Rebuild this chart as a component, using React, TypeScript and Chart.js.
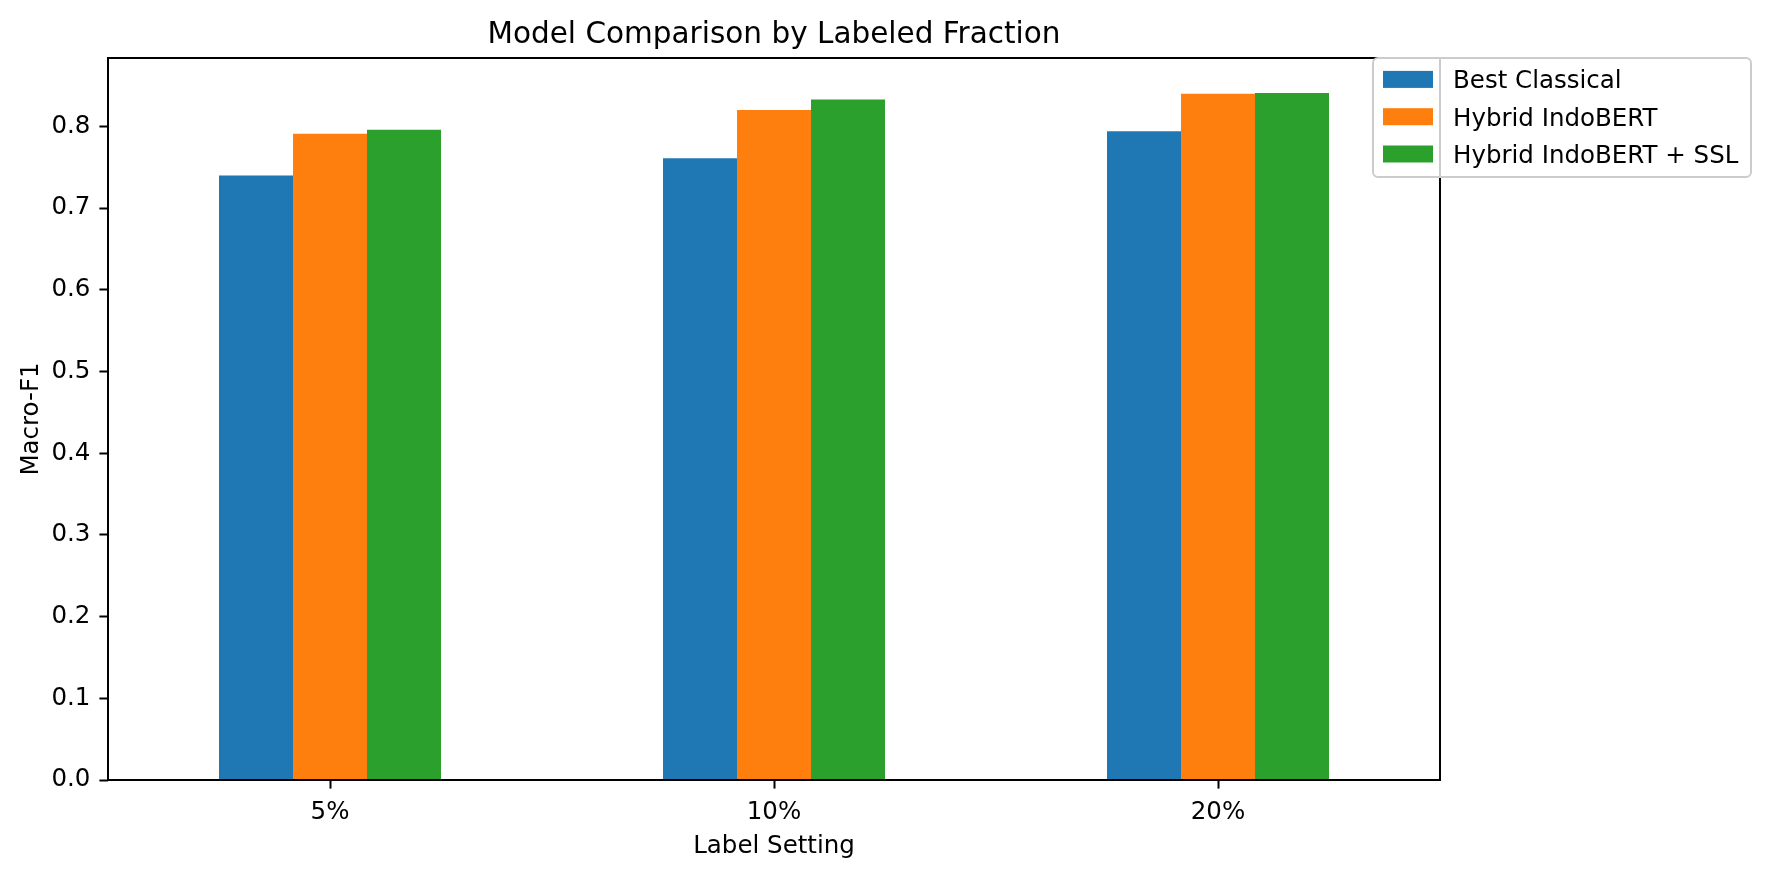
import React, { useEffect, useRef } from 'react';
import { Chart, registerables } from 'chart.js';

Chart.register(...registerables);

const categories = ['5%', '10%', '20%'];
const seriesLabels = ['Best Classical', 'Hybrid IndoBERT', 'Hybrid IndoBERT + SSL'];
const bestClassical = [0.74, 0.761, 0.794];
const hybridIndoBert = [0.791, 0.82, 0.84];
const hybridIndoBertSsl = [0.796, 0.833, 0.841];
const seriesColors = ['#1f77b4', '#ff7f0e', '#2ca02c'];
const yTicks = [0, 0.1, 0.2, 0.3, 0.4, 0.5, 0.6, 0.7, 0.8];
const yMax = 0.8837;

const titleText = 'Model Comparison by Labeled Fraction';
const xTitle = 'Label Setting';
const yTitle = 'Macro-F1';

const FONT = '"DejaVu Sans", "Liberation Sans", sans-serif';
const W = 1772;
const H = 878;

const overlayPlugin = {
  id: 'overlay',
  afterDatasetsDraw(chart: any) {
    const { ctx, chartArea } = chart;
    const { left, right, top, bottom } = chartArea;
    ctx.save();
    ctx.strokeStyle = '#000';
    ctx.lineWidth = 2;
    ctx.strokeRect(left, top, right - left, bottom - top);
    ctx.restore();
  },
  afterDraw(chart: any) {
    const { ctx, chartArea } = chart;
    const { left, right, top, bottom } = chartArea;
    const cx = (left + right) / 2;
    ctx.save();
    ctx.fillStyle = '#000';
    ctx.textAlign = 'center';
    ctx.textBaseline = 'alphabetic';
    ctx.font = `29.5px ${FONT}`;
    ctx.fillText(titleText, cx, 43);
    ctx.font = `24.5px ${FONT}`;
    ctx.fillText(xTitle, cx, 853);
    ctx.save();
    ctx.translate(38, (top + bottom) / 2);
    ctx.rotate(-Math.PI / 2);
    ctx.fillText(yTitle, 0, 0);
    ctx.restore();

    // legend
    const lx = 1373, ly = 58, lw = 378, lh = 119, r = 5;
    ctx.beginPath();
    ctx.moveTo(lx + r, ly);
    ctx.lineTo(lx + lw - r, ly);
    ctx.arcTo(lx + lw, ly, lx + lw, ly + r, r);
    ctx.lineTo(lx + lw, ly + lh - r);
    ctx.arcTo(lx + lw, ly + lh, lx + lw - r, ly + lh, r);
    ctx.lineTo(lx + r, ly + lh);
    ctx.arcTo(lx, ly + lh, lx, ly + lh - r, r);
    ctx.lineTo(lx, ly + r);
    ctx.arcTo(lx, ly, lx + r, ly, r);
    ctx.closePath();
    ctx.fillStyle = 'rgba(255,255,255,0.8)';
    ctx.fill();
    ctx.strokeStyle = '#cccccc';
    ctx.lineWidth = 2;
    ctx.stroke();

    ctx.font = `24.5px ${FONT}`;
    ctx.textAlign = 'left';
    chart.data.datasets.forEach((ds: any, i: number) => {
      const cy = 79.4 + i * 37.3;
      ctx.fillStyle = ds.backgroundColor;
      ctx.fillRect(1383, cy - 8.5, 50, 17);
      ctx.fillStyle = '#000';
      ctx.fillText(ds.label, 1453, cy + 8.8);
    });
    ctx.restore();
  },
};

export default function App() {
  const canvasRef = useRef<HTMLCanvasElement | null>(null);

  useEffect(() => {
    document.body.style.margin = '0';
    const canvas = canvasRef.current;
    if (!canvas) return;
    const seriesValues = [bestClassical, hybridIndoBert, hybridIndoBertSsl];
    const chart = new Chart(canvas, {
      type: 'bar',
      data: {
        labels: categories,
        datasets: seriesValues.map((vals, i) => ({
          label: seriesLabels[i],
          data: vals,
          backgroundColor: seriesColors[i],
          borderWidth: 0,
          categoryPercentage: 0.5,
          barPercentage: 1.0,
        })),
      },
      options: {
        animation: false,
        responsive: false,
        devicePixelRatio: 1,
        layout: { padding: { top: 58, right: 332, left: 0, bottom: 0 } },
        plugins: {
          legend: { display: false },
          title: { display: false },
          tooltip: { enabled: false },
        },
        scales: {
          x: {
            type: 'category',
            offset: true,
            grid: {
              display: true,
              drawOnChartArea: false,
              drawTicks: true,
              offset: false,
              tickLength: 8.6,
              tickColor: '#000',
              tickWidth: 2,
            },
            border: { display: false },
            ticks: {
              color: '#000',
              font: { family: FONT, size: 24.5 },
              padding: 9,
              maxRotation: 0,
            },
            afterFit: (scale: any) => {
              scale.height = 98;
            },
          },
          y: {
            type: 'linear',
            min: 0,
            max: yMax,
            grid: {
              display: true,
              drawOnChartArea: false,
              drawTicks: true,
              tickLength: 8.6,
              tickColor: '#000',
              tickWidth: 2,
            },
            border: { display: false },
            ticks: {
              color: '#000',
              font: { family: FONT, size: 24.5 },
              padding: 9,
              callback: (v: any) => Number(v).toFixed(1),
            },
            afterBuildTicks: (scale: any) => {
              scale.ticks = yTicks.map((v) => ({ value: v }));
            },
            afterFit: (scale: any) => {
              scale.width = 108;
            },
          },
        },
      },
      plugins: [overlayPlugin],
    } as any);
    return () => chart.destroy();
  }, []);

  return (
    <div style={{ position: 'absolute', left: 0, top: 0, width: W, height: H, background: '#fff' }}>
      <canvas ref={canvasRef} width={W} height={H} style={{ width: W, height: H }} />
    </div>
  );
}
